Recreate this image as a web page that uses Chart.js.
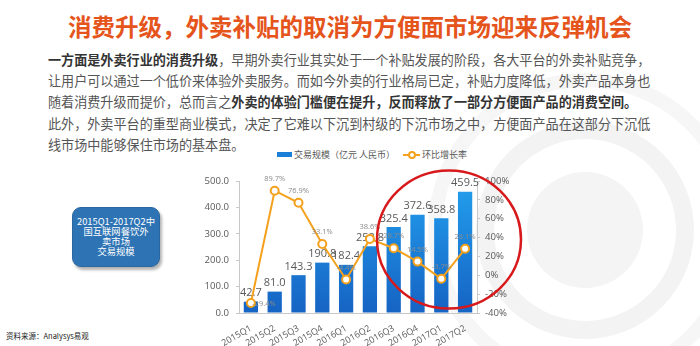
<!DOCTYPE html>
<html>
<head>
<meta charset="utf-8">
<script src="https://cdn.jsdelivr.net/npm/chart.js@4.4.1/dist/chart.umd.min.js"></script>
<style>
  body { margin: 0; width: 700px; height: 346px; overflow: hidden; background: #fff; position: relative;
         font-family: "Noto Sans CJK SC", sans-serif; }
  .bg { position: absolute; left: 0; top: 0; }
  h1 { position: absolute; left: 0; top: 12px; width: 700px; margin: 0; text-align: center;
       font-size: 23.5px; line-height: 28px; font-weight: 700; color: #e5541b; }
  .intro { position: absolute; left: 48px; top: 49px; margin: 0; font-size: 13.1px; line-height: 21.2px;
           color: #555; white-space: nowrap; }
  .intro b { color: #333; }
  .note { position: absolute; left: 72px; top: 207px; width: 88px; height: 60px; box-sizing: border-box;
          background: #2e74b5; border: 1px solid #2a66a0; border-radius: 9px;
          box-shadow: 2px 3px 3px rgba(0,0,0,0.3); color: #fff; font-size: 9.3px; line-height: 9.8px;
          display: flex; flex-direction: column; justify-content: center; align-items: center; text-align: center; }
  .source { position: absolute; left: 6px; top: 330px; font-size: 7.5px; color: #222; }
  #c { position: absolute; left: 180px; top: 140px; }
  .legend { position: absolute; left: 277px; top: 148px; font-size: 9px; color: #595959; display: flex;
            align-items: center; white-space: nowrap; }
  .legend .box { width: 15px; height: 5px; margin-right: 2px; }
  .legend .ln { position: relative; width: 17px; height: 2px; margin: 0 2px 0 8px; }
  .legend .ln i { position: absolute; left: 5px; top: -3px; width: 4px; height: 4px; border-radius: 50%;
                  background: #fff; border: 2px solid; border-color: inherit; }
  .ring { position: absolute; left: 0; top: 0; pointer-events: none; }
</style>
</head>
<body>
<svg class="bg" width="700" height="346">
  <circle cx="585" cy="230" r="58" fill="#f4f4f4"/>
  <circle cx="585" cy="230" r="100" fill="none" stroke="#f3f3f3" stroke-width="18"/>
  <circle cx="585" cy="230" r="150" fill="none" stroke="#f6f6f6" stroke-width="14"/>
</svg>

<h1>消费升级，外卖补贴的取消为方便面市场迎来反弹机会</h1>
<p class="intro"><b>一方面是外卖行业的消费升级</b>，早期外卖行业其实处于一个补贴发展的阶段，各大平台的外卖补贴竞争，<br>让用户可以通过一个低价来体验外卖服务。而如今外卖的行业格局已定，补贴力度降低，外卖产品本身也<br>随着消费升级而提价，总而言之<b>外卖的体验门槛便在提升，反而释放了一部分方便面产品的消费空间。</b><br>此外，外卖平台的重型商业模式，决定了它难以下沉到村级的下沉市场之中，方便面产品在这部分下沉低<br>线市场中能够保住市场的基本盘。</p>

<div class="note"><span>2015Q1-2017Q2中</span><span>国互联网餐饮外</span><span>卖市场</span><span>交易规模</span></div>
<div class="source">资料来源：Analysys易观</div>

<div class="legend" id="legend"></div>
<canvas id="c" width="340" height="206"></canvas>

<svg class="ring" width="700" height="346">
  <ellipse cx="449" cy="239.5" rx="72" ry="69" fill="none" stroke="#d7191c" stroke-width="2.5"/>
</svg>

<script>
const quarters = ['2015Q1', '2015Q2', '2015Q3', '2015Q4', '2016Q1', '2016Q2', '2016Q3', '2016Q4', '2017Q1', '2017Q2'];
// 交易规模（亿元 人民币）
const volume = [42.7, 81.0, 143.3, 190.8, 182.4, 252.8, 325.4, 372.6, 358.8, 459.5];
// 环比增长率 (%)
const growth = [-29.4, 89.7, 76.9, 33.1, -4.4, 38.6, 28.7, 14.5, -3.7, 28.1];
const volumeTicks = [0, 50, 100, 150, 200, 250, 300, 350, 400, 450, 500];
const growthTicks = [-40, -20, 0, 20, 40, 60, 80, 100];

const orange = '#f4a11d';
const axisGrey = '#c8c8c8';
const tickGrey = '#595959';

Chart.defaults.font.family = '"Open Sans", "Noto Sans CJK SC", sans-serif';

function barFill(context) {
  const { ctx, chartArea } = context.chart;
  if (!chartArea) return '#1e88e5';
  const g = ctx.createLinearGradient(0, chartArea.top, 0, chartArea.bottom);
  g.addColorStop(0, '#22a0ee');
  g.addColorStop(1, '#1663c3');
  return g;
}

// value text over bars and growth text over points
const valueLabels = {
  id: 'valueLabels',
  afterDatasetDraw(chart, args) {
    if (args.index !== 0) return;
    const ctx = chart.ctx;
    ctx.save();
    ctx.font = '11px "Open Sans", sans-serif';
    ctx.fillStyle = tickGrey;
    ctx.textAlign = 'center';
    ctx.textBaseline = 'bottom';
    args.meta.data.forEach((bar, i) => ctx.fillText(volume[i].toFixed(1), bar.x, bar.y - 3));
    ctx.restore();
  },
  afterDatasetsDraw(chart) {
    const ctx = chart.ctx;
    const meta = chart.getDatasetMeta(1);
    ctx.save();
    ctx.font = '7.5px "Open Sans", sans-serif';
    ctx.fillStyle = '#8a8a8a';
    ctx.textAlign = 'center';
    ctx.textBaseline = 'middle';
    meta.data.forEach((pt, i) => {
      const txt = growth[i].toFixed(1) + '%';
      if (i === 0) ctx.fillText(txt, pt.x + 13, pt.y + 1);
      else ctx.fillText(txt, pt.x, pt.y - 12);
    });
    ctx.restore();
  }
};

const chart = new Chart(document.getElementById('c'), {
  type: 'bar',
  data: {
    labels: quarters,
    datasets: [{
      label: '交易规模（亿元 人民币）',
      data: volume,
      yAxisID: 'y',
      backgroundColor: barFill,
      barPercentage: 0.6,
      categoryPercentage: 1,
      order: 1
    }, {
      type: 'line',
      label: '环比增长率',
      data: growth,
      yAxisID: 'y1',
      borderColor: orange,
      borderWidth: 2,
      pointRadius: 4,
      pointBorderWidth: 2,
      pointBackgroundColor: '#fff',
      pointBorderColor: orange,
      tension: 0,
      order: 0
    }]
  },
  options: {
    responsive: false,
    animation: false,
    devicePixelRatio: 1,
    layout: { padding: { top: 41, left: 0, right: 0, bottom: 0 } },
    plugins: { legend: { display: false }, tooltip: { enabled: false } },
    scales: {
      x: {
        grid: { display: false },
        border: { display: true, color: axisGrey },
        ticks: { color: tickGrey, font: { size: 9 }, minRotation: 30, maxRotation: 30, padding: 2, autoSkip: false },
        afterFit(s) { s.height = 33; }
      },
      y: {
        position: 'left',
        min: 0, max: 500,
        afterBuildTicks(s) { s.ticks = volumeTicks.map(v => ({ value: v })); },
        grid: { display: true, drawOnChartArea: false, drawTicks: true, tickLength: 3, color: axisGrey },
        border: { display: true, color: axisGrey },
        ticks: { color: tickGrey, font: { size: 9.6 }, padding: 7, callback: v => v.toFixed(1) },
        afterFit(s) { s.width = 59; }
      },
      y1: {
        position: 'right',
        min: -40, max: 100,
        afterBuildTicks(s) { s.ticks = growthTicks.map(v => ({ value: v })); },
        grid: { display: true, drawOnChartArea: false, drawTicks: true, tickLength: 3, color: axisGrey },
        border: { display: true, color: axisGrey },
        ticks: { color: tickGrey, font: { size: 9.6 }, padding: 5, callback: v => v + '%' },
        afterFit(s) { s.width = 43; }
      }
    }
  },
  plugins: [valueLabels]
});

// legend row from the dataset labels
const legend = document.getElementById('legend');
legend.innerHTML =
  '<span class="box" style="background:#1a7fd6"></span><span>' + chart.data.datasets[0].label + '</span>' +
  '<span class="ln" style="background:' + orange + ';border-color:' + orange + '"><i></i></span><span>' +
  chart.data.datasets[1].label + '</span>';
</script>
</body>
</html>
